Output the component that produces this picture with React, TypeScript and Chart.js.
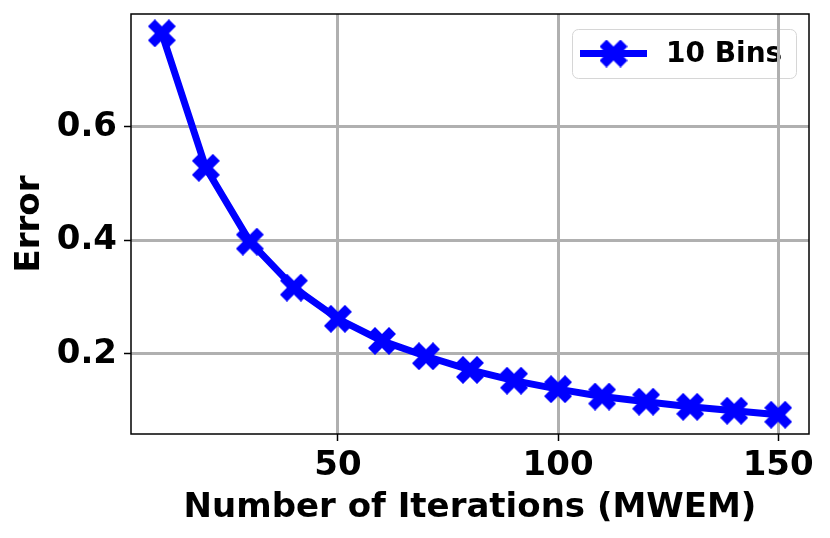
import React, { useEffect, useRef } from 'react';
import { Chart, registerables } from 'chart.js';

Chart.register(...registerables);

const xValues = [10, 20, 30, 40, 50, 60, 70, 80, 90, 100, 110, 120, 130, 140, 150];
const errorValues = [0.765, 0.528, 0.398, 0.317, 0.262, 0.223, 0.196, 0.172, 0.153, 0.138, 0.125, 0.116, 0.107, 0.1, 0.093];
const xTickValues = [50, 100, 150];
const yTickValues = [0.2, 0.4, 0.6];
const seriesLabel = '10 Bins';
const xTitle = 'Number of Iterations (MWEM)';
const yTitle = 'Error';

const BLUE = '#0000ff';
const FONT = "'DejaVu Sans', sans-serif";

function makeXMarker(size: number, color: string): HTMLCanvasElement {
  const c = document.createElement('canvas');
  c.width = size;
  c.height = size;
  const ctx = c.getContext('2d')!;
  const v = [
    [-0.25, -0.5], [0, -0.25], [0.25, -0.5], [0.5, -0.25], [0.25, 0], [0.5, 0.25],
    [0.25, 0.5], [0, 0.25], [-0.25, 0.5], [-0.5, 0.25], [-0.25, 0], [-0.5, -0.25],
  ];
  ctx.fillStyle = color;
  ctx.beginPath();
  v.forEach(([a, b], i) => {
    const px = size / 2 + a * size;
    const py = size / 2 + b * size;
    if (i === 0) ctx.moveTo(px, py);
    else ctx.lineTo(px, py);
  });
  ctx.closePath();
  ctx.fill();
  return c;
}

export default function App() {
  const ref = useRef<HTMLCanvasElement | null>(null);

  useEffect(() => {
    if (!ref.current) return;
    const marker = makeXMarker(28, BLUE);

    const framePlugin = {
      id: 'frame',
      beforeDraw(chart: any) {
        const { ctx, chartArea } = chart;
        ctx.save();
        ctx.fillStyle = '#ffffff';
        ctx.fillRect(0, 0, chart.width, chart.height);
        // legend
        const boxW = 224;
        const boxH = 49;
        const bx = chartArea.right - 13 - boxW;
        const by = chartArea.top + 15;
        ctx.beginPath();
        (ctx as any).roundRect(bx + 0.5, by + 0.5, boxW, boxH, 6);
        ctx.fillStyle = 'rgba(255,255,255,0.8)';
        ctx.fill();
        ctx.strokeStyle = '#d6d6d6';
        ctx.lineWidth = 1;
        ctx.stroke();
        const cy = by + boxH / 2;
        ctx.beginPath();
        ctx.moveTo(bx + 8, cy);
        ctx.lineTo(bx + 75, cy);
        ctx.strokeStyle = BLUE;
        ctx.lineWidth = 7;
        ctx.stroke();
        ctx.drawImage(marker, bx + 41.5 - 14, cy - 14);
        ctx.fillStyle = '#000';
        ctx.font = `bold 28px ${FONT}`;
        ctx.textBaseline = 'middle';
        ctx.textAlign = 'left';
        ctx.fillText(seriesLabel, bx + 94, cy + 1);
        ctx.restore();
      },
      afterDraw(chart: any) {
        const { ctx, chartArea } = chart;
        ctx.save();
        ctx.strokeStyle = '#000';
        ctx.lineWidth = 1.5;
        ctx.strokeRect(chartArea.left, chartArea.top, chartArea.right - chartArea.left, chartArea.bottom - chartArea.top);
        ctx.restore();
      },
    };

    const chart = new Chart(ref.current, {
      type: 'line',
      data: {
        datasets: [
          {
            label: seriesLabel,
            data: xValues.map((x, i) => ({ x, y: errorValues[i] })),
            borderColor: BLUE,
            backgroundColor: BLUE,
            borderWidth: 7,
            pointStyle: marker as any,
            pointRadius: 14,
            pointBorderWidth: 0,
            tension: 0,
            clip: false as any,
          },
        ],
      },
      options: {
        animation: false,
        responsive: true,
        maintainAspectRatio: false,
        layout: { autoPadding: false, padding: { top: 14, right: 21, left: 0, bottom: 0 } },
        plugins: { legend: { display: false }, tooltip: { enabled: false } },
        scales: {
          x: {
            type: 'linear',
            min: 3,
            max: 157,
            afterBuildTicks: (s: any) => {
              s.ticks = xTickValues.map((v) => ({ value: v }));
            },
            afterFit: (s: any) => {
              s.height = 104;
              s.paddingLeft = 0;
              s.paddingRight = 0;
            },
            grid: { color: '#b0b0b0', lineWidth: 3, tickLength: 7, tickColor: '#000', tickWidth: 1.5 },
            border: { display: false },
            ticks: {
              color: '#000',
              font: { family: FONT, size: 34, weight: 'bold' },
              padding: 5,
              maxRotation: 0,
              autoSkip: false,
              callback: (v: any) => String(v),
            },
            title: {
              display: true,
              text: xTitle,
              color: '#000',
              font: { family: FONT, size: 34, weight: 'bold' },
              padding: { top: 0, bottom: 9 },
            },
          },
          y: {
            type: 'linear',
            min: 0.059,
            max: 0.799,
            afterBuildTicks: (s: any) => {
              s.ticks = yTickValues.map((v) => ({ value: v }));
            },
            afterFit: (s: any) => {
              s.width = 131;
              s.paddingTop = 0;
              s.paddingBottom = 0;
            },
            grid: { color: '#b0b0b0', lineWidth: 3, tickLength: 7, tickColor: '#000', tickWidth: 1.5 },
            border: { display: false },
            ticks: {
              color: '#000',
              font: { family: FONT, size: 34, weight: 'bold' },
              padding: 7,
              autoSkip: false,
              callback: (v: any) => Number(v).toFixed(1),
            },
            title: {
              display: true,
              text: yTitle,
              color: '#000',
              font: { family: FONT, size: 34, weight: 'bold' },
              padding: { top: 10, bottom: 0 },
            },
          },
        },
      },
      plugins: [framePlugin],
    });
    return () => chart.destroy();
  }, []);

  return (
    <div style={{ position: 'fixed', left: 0, top: 0, width: 830, height: 538 }}>
      <canvas ref={ref} />
    </div>
  );
}
